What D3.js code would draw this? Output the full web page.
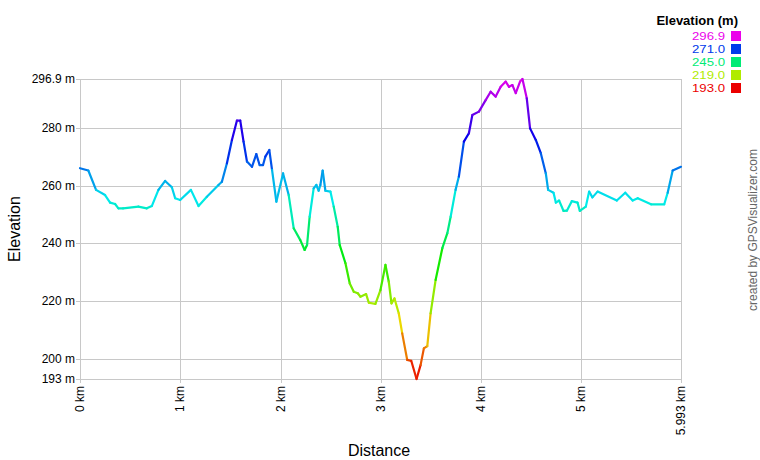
<!DOCTYPE html>
<html><head><meta charset="utf-8">
<script src="https://cdn.jsdelivr.net/npm/d3@7"></script>
<style>body{margin:0;background:#fff}svg{display:block;font-family:"Liberation Sans",Arial,sans-serif}</style>
</head><body><svg id="c" width="760" height="460"></svg>
<script>
const distances = [0,0.083,0.160,0.250,0.300,0.350,0.383,0.430,0.582,0.666,0.716,0.782,0.849,0.916,0.949,0.999,1.106,1.182,1.265,1.381,1.415,1.465,1.515,1.565,1.598,1.631,1.665,1.715,1.758,1.791,1.825,1.848,1.888,1.915,1.958,2.025,2.081,2.131,2.197,2.240,2.264,2.290,2.330,2.357,2.380,2.397,2.420,2.447,2.497,2.530,2.570,2.590,2.647,2.690,2.730,2.770,2.797,2.853,2.880,2.946,2.996,3.046,3.079,3.106,3.136,3.179,3.213,3.263,3.303,3.356,3.396,3.429,3.463,3.496,3.546,3.613,3.663,3.696,3.745,3.778,3.828,3.878,3.912,3.978,4.045,4.095,4.145,4.195,4.245,4.278,4.312,4.345,4.388,4.412,4.455,4.488,4.545,4.595,4.645,4.668,4.722,4.745,4.778,4.822,4.855,4.904,4.961,4.984,5.044,5.077,5.110,5.161,5.353,5.437,5.511,5.561,5.694,5.826,5.860,5.910,5.993];
const elevations = [266.0,265.2,258.5,256.7,254.1,253.6,252.1,252.1,252.7,252.1,252.9,258.5,261.6,259.4,255.6,255.0,258.5,252.9,256.1,260.2,261.3,267.7,275.8,282.5,282.5,275.2,268.3,266.5,270.9,267.1,267.1,270.0,272.3,265.4,254.4,264.2,256.7,245.2,241.1,237.7,239.4,249.2,259.0,260.2,258.2,260.2,265.2,258.2,257.9,252.7,245.7,239.4,233.1,226.1,223.2,222.7,221.5,222.4,219.4,219.0,223.8,232.5,226.7,219.2,220.9,215.7,208.8,199.6,199.3,193.0,197.8,203.6,204.4,215.7,227.3,238.3,243.5,249.2,258.5,263.1,275.2,278.1,284.4,285.6,289.6,292.5,290.8,294.2,296.0,294.2,294.8,292.0,296.0,296.9,290.2,279.8,275.8,271.2,264.2,258.5,257.5,254.1,254.8,251.2,251.3,254.6,254.1,251.2,252.7,257.9,255.9,257.9,254.8,257.5,254.8,255.6,253.5,253.5,257.5,265.2,266.5];
const yTicks = [193,200,220,240,260,280,296.9];
const xTicks = [0,1,2,3,4,5,5.993];
const legendValues = [296.9,271.0,245.0,219.0,193.0];

const svg = d3.select("#c");
const L=80,R=681,T=79,B=379;
const x = d3.scaleLinear().domain([0,5.993]).range([L,R]);
const y = d3.scaleLinear().domain([193,296.9]).range([B,T]);
const hue = d3.scaleLinear().domain([193,296.9]).range([0,300]);
const col = e => d3.hsl(hue(e),1,0.46).formatHex();

// grid
svg.append("g").selectAll("line").data(yTicks).join("line")
  .attr("x1",L-4).attr("x2",R).attr("y1",d=>Math.round(y(d))+0.5).attr("y2",d=>Math.round(y(d))+0.5)
  .attr("stroke","#c8c8c8").attr("stroke-width",1);
svg.append("g").selectAll("line").data(xTicks).join("line")
  .attr("x1",d=>Math.round(x(d))+0.5).attr("x2",d=>Math.round(x(d))+0.5).attr("y1",T).attr("y2",B+4)
  .attr("stroke","#c8c8c8").attr("stroke-width",1);

// y labels
svg.append("g").selectAll("text").data(yTicks).join("text")
  .attr("x",L-5).attr("y",d=>y(d)+4).attr("text-anchor","end")
  .attr("font-size",12).attr("fill","#000")
  .text(d=>(d%1?d.toFixed(1):d)+" m");
// x labels
svg.append("g").selectAll("text").data(xTicks).join("text")
  .attr("transform",d=>`translate(${x(d)+4},${B+7}) rotate(-90)`)
  .attr("text-anchor","end").attr("font-size",12).attr("fill","#000")
  .text(d=>(d%1?d.toFixed(3):d)+" km");

// titles
svg.append("text").attr("transform","translate(20,229) rotate(-90)").attr("text-anchor","middle")
  .attr("font-size",16).text("Elevation");
svg.append("text").attr("x",379).attr("y",456).attr("text-anchor","middle")
  .attr("font-size",16).text("Distance");
svg.append("text").attr("transform","translate(757,230) rotate(-90)").attr("text-anchor","middle")
  .attr("font-size",12).attr("fill","#666").text("created by GPSVisualizer.com");

// line, one segment per pair of points, coloured by elevation
const data = distances.map((d,i)=>({d,e:elevations[i]}));
const segs = d3.pairs(data);
svg.append("g").selectAll("line").data(segs).join("line")
  .attr("x1",s=>x(s[0].d)).attr("y1",s=>y(s[0].e))
  .attr("x2",s=>x(s[1].d)).attr("y2",s=>y(s[1].e))
  .attr("stroke",s=>col((s[0].e+s[1].e)/2)).attr("stroke-width",2.2).attr("stroke-linecap","round");

// legend
svg.append("text").attr("x",738).attr("y",25).attr("text-anchor","end")
  .attr("font-size",13).attr("font-weight","bold").text("Elevation (m)");
const lg = svg.append("g").selectAll("g").data(legendValues).join("g")
  .attr("transform",(d,i)=>`translate(0,${40+i*13})`);
lg.append("text").attr("x",725).attr("y",0).attr("text-anchor","end").attr("font-size",11)
  .attr("textLength",33).attr("lengthAdjust","spacingAndGlyphs")
  .attr("fill",d=>col(d)).text(d=>d.toFixed(1));
lg.append("rect").attr("x",731).attr("y",-9).attr("width",10).attr("height",10).attr("fill",d=>col(d));
</script></body></html>
